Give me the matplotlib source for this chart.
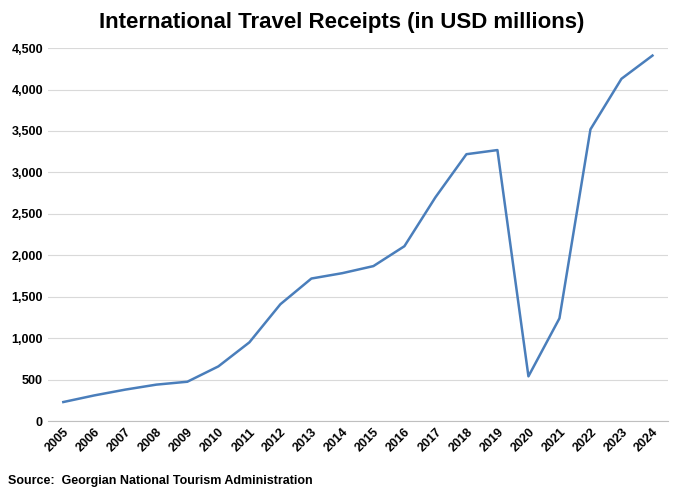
import matplotlib.pyplot as plt
from matplotlib.ticker import FuncFormatter

years = list(range(2005, 2025))
receipts = [230, 310, 380, 440, 475, 660, 950, 1410, 1720, 1785,
            1870, 2110, 2700, 3220, 3270, 540, 1240, 3520, 4130, 4410]

plt.rcParams["font.family"] = "Liberation Sans"

fig = plt.figure(figsize=(6.83, 4.96), dpi=100)
ax = fig.add_axes([0.07, 0.151, 0.908, 0.752])

ax.plot(years, receipts, color="#4a7ebb", linewidth=1.8)
ax.set_ylim(0, 4500)
ax.set_xlim(2004.5, 2024.5)
ax.set_yticks(range(0, 4501, 500))
ax.yaxis.set_major_formatter(FuncFormatter(lambda v, p: f"{int(v):,}"))
ax.set_xticks(years)
ax.set_xticklabels([str(y) for y in years], rotation=45, ha="right",
                   rotation_mode="anchor", fontweight="bold", fontsize=9)
for lbl in ax.get_yticklabels():
    lbl.set_fontweight("bold")
    lbl.set_fontsize(9)
ax.grid(axis="y", color="#d9d9d9", linewidth=0.8)
ax.set_axisbelow(True)
for s in ["top", "right", "left"]:
    ax.spines[s].set_visible(False)
ax.spines["bottom"].set_color("#bfbfbf")
ax.tick_params(axis="y", length=0)
ax.tick_params(axis="x", length=0)

fig.text(0.5, 0.955, "International Travel Receipts (in USD millions)",
         ha="center", va="center", fontsize=16, fontweight="bold")
fig.text(0.012, 0.03, "Source:  Georgian National Tourism Administration",
         ha="left", va="center", fontsize=9, fontweight="bold")

fig.savefig("out.png", dpi=100)
